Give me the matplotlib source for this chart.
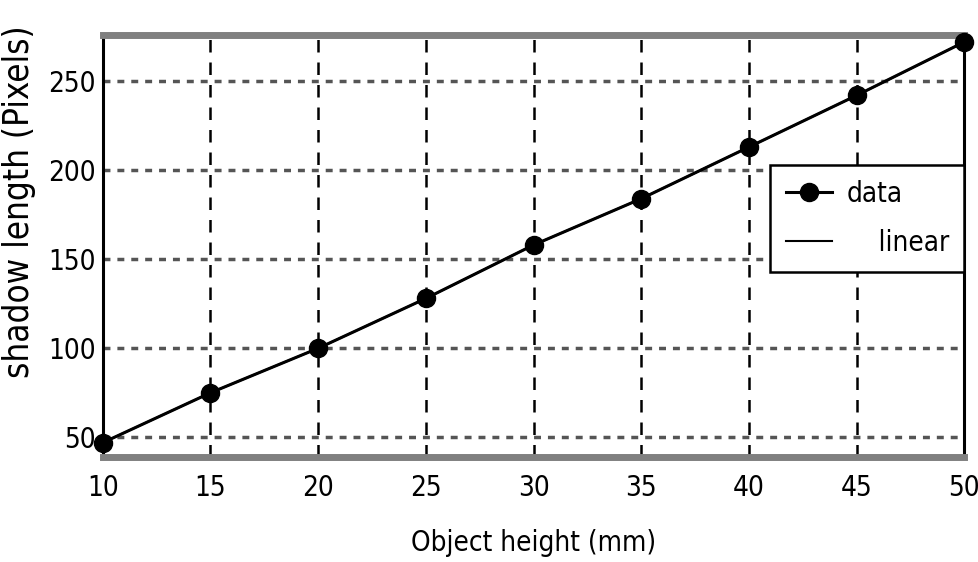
import matplotlib.pyplot as plt

plt.rcParams['font.family'] = ['DejaVu Sans']
plt.rcParams['font.stretch'] = 'condensed'

# data
obj_height = [10, 15, 20, 25, 30, 35, 40, 45, 50]
shadow_len = [47, 75, 100, 128, 158, 184, 213, 242, 272]
xticks = [10, 15, 20, 25, 30, 35, 40, 45, 50]
yticks = [50, 100, 150, 200, 250]

fig = plt.figure(figsize=(9.79, 5.62), dpi=100)
ax = fig.add_axes([0.105, 0.187, 0.88, 0.751])

ax.plot(obj_height, shadow_len, 'k-o', lw=2.2, ms=13, label='data', clip_on=False, zorder=3)
ax.plot(obj_height, shadow_len, 'k-', lw=1.5, label='    linear', zorder=3)

ax.set_xlim(10, 50)
ax.set_ylim(39, 276)
ax.set_xticks(xticks)
ax.set_yticks(yticks)
ax.tick_params(length=0, labelsize=20)
ax.tick_params(axis='x', pad=12)
ax.tick_params(axis='y', pad=5)

for x in xticks[1:-1]:
    ax.axvline(x, color='k', ls=(0, (5, 4)), lw=1.8, zorder=0)
for y in yticks:
    ax.axhline(y, color='#555555', ls=(0, (2, 2)), lw=2.5, zorder=0)

ax.spines['left'].set_linewidth(2.2)
ax.spines['right'].set_linewidth(2.2)
ax.spines['top'].set_color('#808080')
ax.spines['bottom'].set_color('#808080')
ax.spines['top'].set_linewidth(5)
ax.spines['bottom'].set_linewidth(5)

ax.set_xlabel('Object height (mm)', fontsize=20, labelpad=20)
ax.set_ylabel('shadow length (Pixels)', fontsize=25, fontweight='light')
ax.yaxis.set_label_coords(-0.077, 0.605)

leg = ax.legend(loc='upper right', bbox_to_anchor=(1.0, 0.692), fontsize=20,
                fancybox=False, framealpha=1, edgecolor='k', borderpad=0.55,
                borderaxespad=0, handlelength=1.65, handletextpad=0.55,
                labelspacing=0.75)
leg.get_frame().set_linewidth(1.8)

fig.savefig('out.png', dpi=100)
